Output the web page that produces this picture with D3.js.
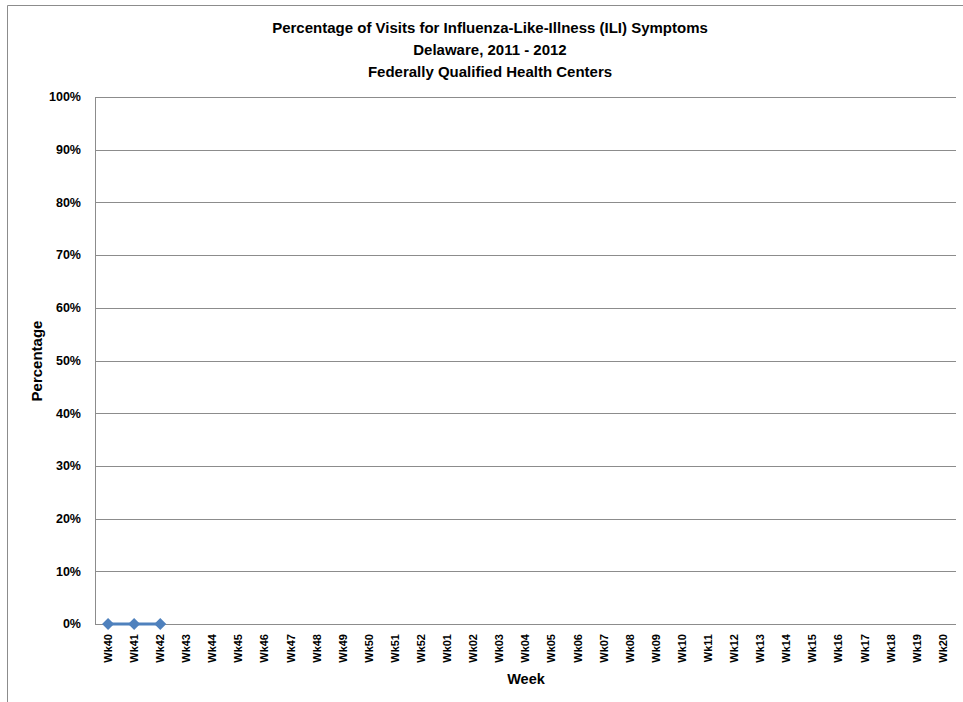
<!DOCTYPE html>
<html><head><meta charset="utf-8">
<script src="https://cdn.jsdelivr.net/npm/d3@7"></script>
<style>body{margin:0;background:#fff;} svg{display:block;} text{font-family:"Liberation Sans",Arial,sans-serif;font-weight:bold;fill:#000;}</style>
</head><body>
<svg id="c" width="963" height="702"></svg>
<script>
const weeks = ["Wk40","Wk41","Wk42","Wk43","Wk44","Wk45","Wk46","Wk47","Wk48","Wk49","Wk50","Wk51","Wk52","Wk01","Wk02","Wk03","Wk04","Wk05","Wk06","Wk07","Wk08","Wk09","Wk10","Wk11","Wk12","Wk13","Wk14","Wk15","Wk16","Wk17","Wk18","Wk19","Wk20"];
const iliWeeks = ["Wk40","Wk41","Wk42"];
const iliValues = [0, 0, 0];
const yTicks = [0,10,20,30,40,50,60,70,80,90,100];
const titleLines = ["Percentage of Visits for Influenza-Like-Illness (ILI) Symptoms","Delaware, 2011 - 2012","Federally Qualified Health Centers"];

const svg = d3.select("#c");
// outer frame
svg.append("path").attr("d","M7.5,702 V5.5 H963").attr("fill","none").attr("stroke","#8c8c8c").attr("stroke-width",1);

const L=95, R=956, T=97, B=624;
const x = d3.scaleBand().domain(weeks).range([L,R]);
const y = d3.scaleLinear().domain([0,100]).range([B,T]);

// gridlines
svg.append("g").selectAll("line").data(yTicks).join("line")
  .attr("x1",L).attr("x2",R).attr("y1",d=>Math.round(y(d))+0.5).attr("y2",d=>Math.round(y(d))+0.5)
  .attr("stroke","#8c8c8c").attr("stroke-width",1);
svg.append("line").attr("x1",L+0.5).attr("x2",L+0.5).attr("y1",T).attr("y2",B+0.5).attr("stroke","#8c8c8c");

// y tick labels
svg.append("g").selectAll("text").data(yTicks).join("text")
  .attr("x",81).attr("y",d=>y(d)).attr("dy","0.35em").attr("text-anchor","end")
  .style("font-size","12.5px").text(d=>d+"%");

// x tick labels
svg.append("g").selectAll("text").data(weeks).join("text")
  .attr("transform",d=>`translate(${x(d)+x.bandwidth()/2},${B+10}) rotate(-90)`)
  .attr("dy","0.35em").attr("text-anchor","end").style("font-size","11px").text(d=>d);

// series
const pts = iliWeeks.map((w,i)=>({w, v:iliValues[i]}));
svg.append("path").datum(pts)
  .attr("d", d3.line().x(d=>x(d.w)+x.bandwidth()/2).y(d=>y(d.v)))
  .attr("fill","none").attr("stroke","#4F81BD").attr("stroke-width",3);
svg.append("g").selectAll("path").data(pts).join("path")
  .attr("transform",d=>`translate(${x(d.w)+x.bandwidth()/2},${y(d.v)})`)
  .attr("d","M0,-6 L6,0 L0,6 L-6,0 Z").attr("fill","#4F81BD");

// titles
svg.append("g").selectAll("text").data(titleLines).join("text")
  .attr("x",490).attr("y",(d,i)=>33+i*22).attr("text-anchor","middle")
  .style("font-size","15px").text(d=>d);

svg.append("text").attr("x",526).attr("y",684).attr("text-anchor","middle").style("font-size","14.5px").text("Week");
svg.append("text").attr("transform","translate(42,361) rotate(-90)").attr("text-anchor","middle").style("font-size","15px").text("Percentage");
</script>
</body></html>
